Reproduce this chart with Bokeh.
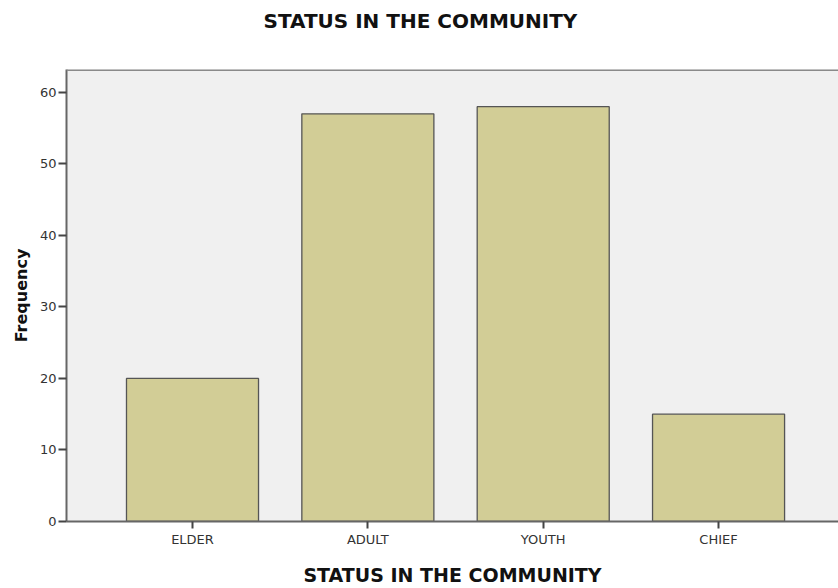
import numpy as np
from bokeh.plotting import figure
from bokeh.models import Range1d, FixedTicker, Span, Title
from bokeh.embed import file_html
from bokeh.resources import INLINE

# Frequency of respondents by status in the community
categories = ["ELDER", "ADULT", "YOUTH", "CHIEF"]
counts = [20, 57, 58, 15]
y_ticks = [0, 10, 20, 30, 40, 50, 60]
chart_title = "STATUS IN THE COMMUNITY"

positions = np.arange(len(categories))

FONT = "DejaVu Sans"
Y_END = 63.2

p = figure(
    width=838, height=588,
    output_backend="svg", toolbar_location=None,
    x_range=Range1d(-0.7186, 3.684), y_range=Range1d(0, Y_END),
    min_border_left=66, min_border_right=0,
    min_border_top=69, min_border_bottom=62,
    background_fill_color="#f0f0f0", border_fill_color="white",
    outline_line_color=None,
    title=None,
)

p.vbar(x=positions, top=counts, width=0.753,
       fill_color="#d2cd96", line_color="#555555", line_width=1.3)

# top edge of the plotting area
p.add_layout(Span(location=Y_END, dimension="width",
                  line_color="#8a8a8a", line_width=3))

# blank band between the frame and the heading
spacer = Title(text=" ", text_font=FONT, text_font_size="26px", standoff=0)
heading = Title(
    text=chart_title, text_font=FONT, text_font_size="20px",
    text_font_style="bold", text_color="#111111",
    align="left", offset=197,
)
p.add_layout(spacer, "above")
p.add_layout(heading, "above")

p.xgrid.visible = False
p.ygrid.visible = False

xa = p.xaxis[0]
xa.ticker = FixedTicker(ticks=list(positions))
xa.major_label_overrides = {int(i): c for i, c in zip(positions, categories)}
xa.minor_tick_line_color = None
xa.major_tick_in = 0
xa.major_tick_out = 7
xa.major_tick_line_color = "#444444"
xa.major_tick_line_width = 2
xa.major_label_standoff = 3
xa.major_label_text_font = FONT
xa.major_label_text_font_size = "13px"
xa.major_label_text_color = "#333333"
xa.axis_line_color = "#666666"
xa.axis_line_width = 2
xa.axis_label = "STATUS IN THE COMMUNITY"
xa.axis_label_text_font = FONT
xa.axis_label_text_font_size = "19px"
xa.axis_label_text_font_style = "bold"
xa.axis_label_text_color = "#111111"
xa.axis_label_standoff = 14

ya = p.yaxis[0]
ya.ticker = FixedTicker(ticks=y_ticks)
ya.minor_tick_line_color = None
ya.major_tick_in = 0
ya.major_tick_out = 8
ya.major_tick_line_color = "#444444"
ya.major_tick_line_width = 2
ya.major_label_standoff = 2
ya.major_label_text_font = FONT
ya.major_label_text_font_size = "13px"
ya.major_label_text_color = "#333333"
ya.axis_line_color = "#666666"
ya.axis_line_width = 2
ya.axis_label = "Frequency"
ya.axis_label_text_font = FONT
ya.axis_label_text_font_size = "16px"
ya.axis_label_text_font_style = "bold"
ya.axis_label_text_color = "#111111"
ya.axis_label_standoff = 6

open("out.html", "w").write(file_html(p, INLINE))
